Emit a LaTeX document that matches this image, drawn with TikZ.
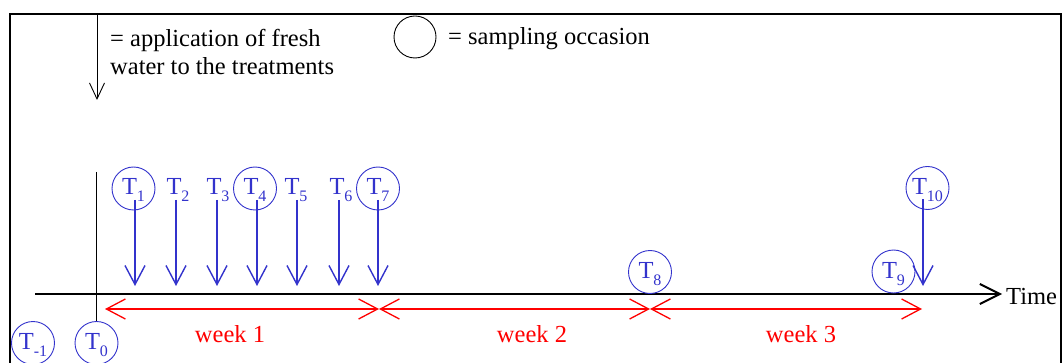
\documentclass[tikz,border=0pt]{standalone}
\usepackage{fontspec}
\setmainfont{Liberation Serif}
\usetikzlibrary{arrows.meta,calc}
\definecolor{sampblue}{RGB}{51,51,204}
\definecolor{weekred}{RGB}{255,0,0}
% T with a lowered index
\newcommand{\Tlab}[1]{T\raisebox{-7pt}{\fontsize{16}{16}\selectfont #1}}
\tikzset{
  txt/.style={font=\fontsize{24.5}{28}\selectfont, inner sep=0pt},
  tlab/.style={txt, text=sampblue, text height=20pt, text depth=7pt},
  samp/.style={tlab, circle, draw=sampblue, line width=0.9pt, minimum size=43pt},
  plainT/.style={tlab},
  drop/.style={draw=sampblue, line width=1.4pt, -{Straight Barb[length=19pt,width=20pt]}},
  week/.style={draw=weekred, line width=1.3pt,
    {Straight Barb[length=19pt,width=20pt]}-{Straight Barb[length=19pt,width=20pt]}},
  axis/.style={draw=black, line width=2pt, -{Straight Barb[length=20pt,width=20pt]}},
  legarrow/.style={draw=black, line width=0.9pt, -{Straight Barb[length=16pt,width=15pt]}},
  frame/.style={draw=black, line width=2.6pt},
}
\begin{document}
\begin{tikzpicture}[x=1pt,y=-1pt]
\useasboundingbox (0,0) rectangle (1062,363);

% outer frame (open at the bottom)
\draw[frame] (10,366) -- (10,14) -- (1061,14) -- (1061,366);

% legend
\coordinate (legtop) at (97,14);
\coordinate (legtip) at (97,100);
\draw[legarrow] (legtop) -- (legtip);
\node[txt, anchor=base west] (leg1) at (110,47) {= application of fresh};
\node[txt, anchor=base west] (leg2) at (110,75) {water to the treatments};
\node[txt, circle, draw=black, line width=0.9pt, minimum size=42pt] (legc) at (415,37) {};
\node[txt, anchor=base west] (leg3) at (448,45) {= sampling occasion};

% time axis
\coordinate (ax0) at (35,294);
\coordinate (ax1) at (1002,294);
\draw[axis] (ax0) -- (ax1);
\node[txt, anchor=base west] (time) at (1006,304) {Time};

% sampling labels
\node[samp] (tm1) at (33,343) {\Tlab{-1}};
\node[samp] (t0) at (96.5,343) {\Tlab{0}};
\node[samp] (t1) at (133.5,188.5) {\Tlab{1}};
\node[plainT] (t2) at (178,188.5) {\Tlab{2}};
\node[plainT] (t3) at (218,188.5) {\Tlab{3}};
\node[samp] (t4) at (255,188.5) {\Tlab{4}};
\node[plainT] (t5) at (296,188.5) {\Tlab{5}};
\node[plainT] (t6) at (341,188.5) {\Tlab{6}};
\node[samp] (t7) at (378,188.5) {\Tlab{7}};
\node[samp] (t8) at (650,272) {\Tlab{8}};
\node[samp] (t9) at (893.5,271.5) {\Tlab{9}};
\node[samp] (t10) at (927.5,188) {\Tlab{10}};

% start of the experiment
\coordinate (vtop) at (96.5,172);
\draw[black, line width=0.9pt] (vtop) -- (t0.north);

% fresh water applications
\foreach \n/\x in {1/135,2/176,3/217,4/257,5/297,6/339,7/378,10/923}{
  \coordinate (d\n) at (\x,286);
  \draw[drop] ($(d\n |- t\n.center)+(0,11.5)$) -- (d\n);
}

% weeks
\coordinate (w0) at (105,309);
\coordinate (w1) at (379,309);
\coordinate (w2) at (650,309);
\coordinate (w3) at (922,309);
\draw[week] (w0) -- (w1);
\draw[week] (w1) -- (w2);
\draw[week] (w2) -- (w3);
\node[txt, text=weekred, anchor=base] (wk1) at (230,342) {week 1};
\node[txt, text=weekred, anchor=base] (wk2) at (532,342) {week 2};
\node[txt, text=weekred, anchor=base] (wk3) at (801,342) {week 3};
\end{tikzpicture}
\end{document}
